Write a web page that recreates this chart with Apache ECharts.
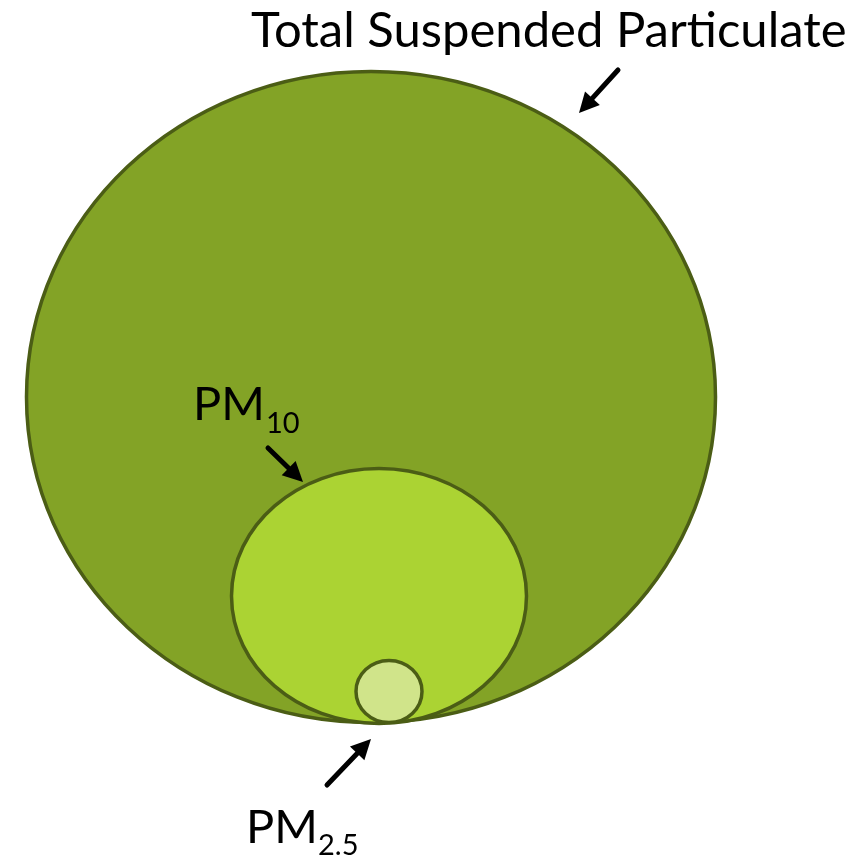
<!DOCTYPE html>
<html>
<head>
<meta charset="utf-8">
<script src="https://cdn.jsdelivr.net/npm/echarts@6/dist/echarts.min.js"></script>
<style>
  html, body { margin: 0; padding: 0; background: #fff; }
  #chart { width: 858px; height: 857px; }
</style>
</head>
<body>
<div id="chart"></div>
<script>
// nested particle size classes, drawn as ellipses in a 858 x 857 unit plane
const shapeNames = ['Total Suspended Particulate', 'PM10', 'PM2.5'];
const centerX = [371, 379, 389];
const centerY = [397, 596, 691.5];
const radiusX = [344.5, 147.5, 33];
const radiusY = [325.5, 127.5, 31];

// arrows pointing from each label to its ellipse
const arrowFromX = [618, 268, 327];
const arrowFromY = [70, 448, 785];
const arrowToX = [579, 303, 371];
const arrowToY = [113, 482, 739];

// labels (main text + subscript)
const labelMain = ['Total Suspended Particulate', 'PM', 'PM'];
const labelX = [251, 193, 246];
const labelY = [31.5, 405, 827.5];
const labelSub = ['', '10', '2.5'];
const subX = [0, 266, 318];
const subY = [0, 423.5, 846];

const fillColors = ['#83A326', '#ABD333', '#D0E48A'];
const edgeColor = '#4B5D15';
const mainFontSize = [49, 47, 47];
const fontFamily = 'Lato, "Open Sans", sans-serif';

const chart = echarts.init(document.getElementById('chart'));

function renderEllipse(params, api) {
  const c = api.coord([api.value(0), api.value(1)]);
  const rx = api.size([api.value(2), 0])[0];
  const ry = api.size([0, api.value(3)])[1];
  return {
    type: 'ellipse',
    shape: { cx: c[0], cy: c[1], rx: rx, ry: ry },
    style: { fill: fillColors[params.dataIndex], stroke: edgeColor, lineWidth: 3.5 }
  };
}

function renderArrow(params, api) {
  const a = api.coord([api.value(0), api.value(1)]);
  const b = api.coord([api.value(2), api.value(3)]);
  const dx = b[0] - a[0], dy = b[1] - a[1];
  const len = Math.sqrt(dx * dx + dy * dy);
  const ux = dx / len, uy = dy / len;
  const head = 20, half = 10;
  const bx = b[0] - ux * head, by = b[1] - uy * head;
  return {
    type: 'group',
    children: [
      {
        type: 'line',
        shape: { x1: a[0], y1: a[1], x2: bx + ux * 2, y2: by + uy * 2 },
        style: { stroke: '#000', lineWidth: 5, lineCap: 'round' }
      },
      {
        type: 'polygon',
        shape: { points: [[b[0], b[1]], [bx - uy * half, by + ux * half], [bx + uy * half, by - ux * half]] },
        style: { fill: '#000' }
      }
    ]
  };
}

function renderLabel(params, api) {
  const i = params.dataIndex;
  const p = api.coord([api.value(0), api.value(1)]);
  const children = [{
    type: 'text',
    x: p[0], y: p[1],
    style: {
      text: labelMain[i], fill: '#000', fontSize: mainFontSize[i], fontFamily: fontFamily,
      align: 'left', verticalAlign: 'middle'
    }
  }];
  if (labelSub[i]) {
    const s = api.coord([subX[i], subY[i]]);
    children.push({
      type: 'text',
      x: s[0], y: s[1],
      style: {
        text: labelSub[i], fill: '#000', fontSize: 29, fontFamily: fontFamily,
        align: 'left', verticalAlign: 'middle'
      }
    });
  }
  return { type: 'group', children: children };
}

const options = {
  animation: false,
  grid: { left: 0, right: 0, top: 0, bottom: 0 },
  xAxis: { type: 'value', min: 0, max: 858, show: false },
  yAxis: { type: 'value', min: 0, max: 857, inverse: true, show: false },
  series: [
    {
      type: 'custom',
      name: 'particles',
      renderItem: renderEllipse,
      encode: { x: 0, y: 1 },
      data: shapeNames.map((n, i) => ({ name: n, value: [centerX[i], centerY[i], radiusX[i], radiusY[i]] }))
    },
    {
      type: 'custom',
      name: 'arrows',
      renderItem: renderArrow,
      encode: { x: 0, y: 1 },
      data: arrowFromX.map((x, i) => [x, arrowFromY[i], arrowToX[i], arrowToY[i]])
    },
    {
      type: 'custom',
      name: 'labels',
      renderItem: renderLabel,
      encode: { x: 0, y: 1 },
      data: labelMain.map((t, i) => [labelX[i], labelY[i]])
    }
  ]
};

chart.setOption(options);
</script>
</body>
</html>
